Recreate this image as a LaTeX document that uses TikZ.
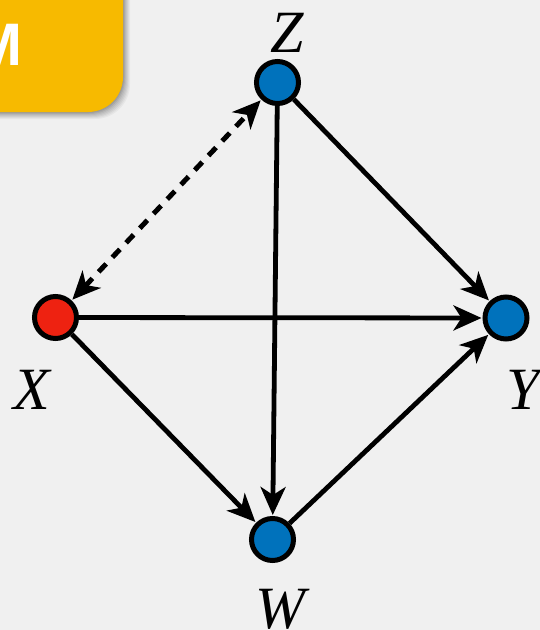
\documentclass[tikz,border=0pt]{standalone}
\usepackage{fontspec}
\setmainfont{Liberation Serif}
\setsansfont{Liberation Sans}
\usetikzlibrary{arrows.meta}
\definecolor{bg}{HTML}{F0F0F0}
\definecolor{nblue}{HTML}{0072BC}
\definecolor{nred}{HTML}{EE2211}
\definecolor{byellow}{HTML}{F7BA00}
\tikzset{
  var/.style={circle, draw=black, line width=5pt, minimum size=42pt, inner sep=0pt},
  lbl/.style={font=\fontsize{60}{60}\selectfont\itshape, inner sep=0pt},
  edge/.style={line width=4.8pt, -{Stealth[length=28pt, width=25pt, inset=8pt]}, shorten >=1pt},
  bidir/.style={line width=5pt, dash pattern=on 11pt off 9pt, {Stealth[length=28pt, width=25pt, inset=8pt]}-{Stealth[length=28pt, width=25pt, inset=8pt]}, shorten >=1pt, shorten <=1pt}
}
\begin{document}
\begin{tikzpicture}[x=1pt, y=-1pt]
\useasboundingbox (0,0) rectangle (540,630);
\clip (0,0) rectangle (540,630);
\fill[bg] (0,0) rectangle (540,630);
% shadow of badge
\foreach \d/\o in {9/0.04,8/0.04,7/0.05,6/0.05,5/0.06,4/0.07,3/0.08,2/0.08} {
  \fill[black, opacity=\o, rounded corners=35pt] (-60,-60) rectangle (121+\d,110+\d);
}
\fill[byellow, rounded corners=35pt] (-60,-60) rectangle (123,112);
\node[font=\fontsize{60}{60}\selectfont\sffamily\bfseries, text=white, anchor=base east, inner sep=0pt] (badge) at (23,65) {M};
% nodes
\node[var, fill=nblue] (Z) at (277.5,82.5) {};
\node[var, fill=nred]  (X) at (55.5,317.5) {};
\node[var, fill=nblue] (Y) at (506,318) {};
\node[var, fill=nblue] (W) at (272.5,539.5) {};
% labels
\node[lbl] (lZ) at (287,33) {Z};
\node[lbl] (lX) at (32,390) {X};
\node[lbl] (lY) at (523,390) {Y};
\node[lbl] (lW) at (280,609) {W};
% edges
\draw[edge] (Z) -- (Y);
\draw[edge] (Z) -- (W);
\draw[edge] (X) -- (Y);
\draw[edge] (X) -- (W);
\draw[edge] (W) -- (Y);
\draw[bidir] (X) -- (Z);
\end{tikzpicture}
\end{document}
